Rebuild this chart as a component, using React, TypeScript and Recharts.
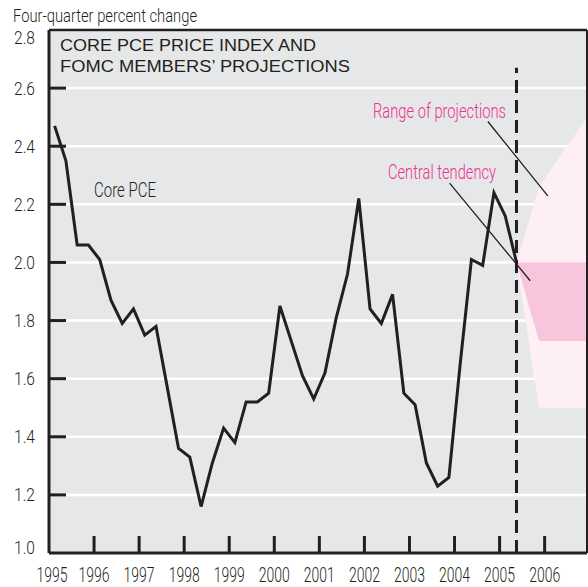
import React from "react";
import {
  ComposedChart,
  Line,
  Area,
  XAxis,
  YAxis,
  CartesianGrid,
  ReferenceLine,
  Customized,
} from "recharts";

// ---- Data ----
const years = [1995, 1996, 1997, 1998, 1999, 2000, 2001, 2002, 2003, 2004, 2005];
const quarterNames = ["Q1", "Q2", "Q3", "Q4"];
// Core PCE four-quarter percent change, 1995Q1 .. 2005Q2
const corePce = [
  2.47, 2.35, 2.06, 2.06,
  2.01, 1.87, 1.79, 1.84,
  1.75, 1.78, 1.57, 1.36,
  1.33, 1.16, 1.31, 1.43,
  1.38, 1.52, 1.52, 1.55,
  1.85, 1.73, 1.61, 1.53,
  1.62, 1.81, 1.96, 2.22,
  1.84, 1.79, 1.89, 1.55,
  1.51, 1.31, 1.23, 1.26,
  1.65, 2.01, 1.99, 2.24,
  2.16, 2.0,
];
// Projection band points: last actual, 2005Q4, right edge
const projX = [2005.375, 2005.875, 2006.94];
const rangeLow = [2.0, 1.5, 1.5];
const rangeHigh = [2.0, 2.26, 2.5];
const centralLow = [2.0, 1.73, 1.73];
const centralHigh = [2.0, 2.0, 2.0];

const xTicks = [1995, 1996, 1997, 1998, 1999, 2000, 2001, 2002, 2003, 2004, 2005, 2006];
const yTicks = [1.0, 1.2, 1.4, 1.6, 1.8, 2.0, 2.2, 2.4, 2.6, 2.8];
const X_DOMAIN: [number, number] = [1995, 2006.94];
const Y_DOMAIN: [number, number] = [1.0, 2.8];
const lastActualX = 2005.375;

// Annotation leader lines (data coords)
const rangeLeader = [
  { x: 2004.74, y: 2.485 },
  { x: 2006.07, y: 2.229 },
];
const centralLeader = [
  { x: 2003.89, y: 2.273 },
  { x: 2005.68, y: 1.937 },
];

// ---- Build table ----
const quarterX = (label: string) => {
  const [y, q] = label.split("Q");
  return Number(y) + (Number(q) - 1) * 0.25 + 0.125;
};
const quarterLabels: string[] = [];
years.forEach((y) => quarterNames.forEach((q) => quarterLabels.push(`${y}${q}`)));

type Row = { x: number; pce?: number; range?: [number, number]; central?: [number, number] };
const rowMap = new Map<number, Row>();
corePce.forEach((v, i) => {
  const x = quarterX(quarterLabels[i]);
  rowMap.set(x, { x, pce: v });
});
projX.forEach((x, i) => {
  const r = rowMap.get(x) || { x };
  r.range = [rangeLow[i], rangeHigh[i]];
  r.central = [centralLow[i], centralHigh[i]];
  rowMap.set(x, r);
});
const data = Array.from(rowMap.values()).sort((a, b) => a.x - b.x);

// ---- Styles ----
const FONT_NARROW = "Roboto, 'Liberation Sans', sans-serif";
const FONT_TITLE = "'Liberation Sans', Arial, Roboto, sans-serif";
const INK = "#231f20";
const PINK_TEXT = "#ec3390";

type NTProps = {
  x: number;
  y: number;
  size: number;
  width: number;
  anchor?: "start" | "middle" | "end";
  fill?: string;
  family?: string;
  weight?: number;
  children: React.ReactNode;
};
const FitText = ({
  x,
  y,
  size,
  width,
  anchor = "start",
  fill = INK,
  family = FONT_NARROW,
  weight = 300,
  children,
}: NTProps) => (
  <text
    x={x}
    y={y}
    fontFamily={family}
    fontSize={size}
    fontWeight={weight}
    fill={fill}
    textAnchor={anchor}
    textLength={width}
    lengthAdjust="spacingAndGlyphs"
  >
    {children}
  </text>
);

const YTick = (props: any) => {
  const { x, y, payload } = props;
  const v = payload.value;
  let dy = 6.5;
  if (Math.abs(v - 2.8) < 1e-6) dy = 14;
  if (Math.abs(v - 1.0) < 1e-6) dy = 1;
  return (
    <g>
      {v > 1.0 + 1e-6 && v < 2.8 - 1e-6 && (
        <line x1={x} x2={x + 17} y1={y} y2={y} stroke={INK} strokeWidth={3} />
      )}
      <FitText x={x - 14} y={y + dy} size={19} width={21} anchor="end">
        {v.toFixed(1)}
      </FitText>
    </g>
  );
};

const XTick = (props: any) => {
  const { x, y, payload } = props;
  const v = payload.value;
  return (
    <g>
      {v > 1995 && (
        <line x1={x} x2={x} y1={y} y2={y - 17} stroke={INK} strokeWidth={3} />
      )}
      <FitText x={x + (v === 1995 ? 3 : 0)} y={y + 29} size={20} width={31} anchor="middle">
        {v}
      </FitText>
    </g>
  );
};

const Annotations = () => (
  <g>
    <FitText x={13} y={21.5} size={18.5} width={184}>
      Four-quarter percent change
    </FitText>
    <FitText x={60} y={51} size={16} width={256} family={FONT_TITLE} weight={400}>
      CORE PCE PRICE INDEX AND
    </FitText>
    <FitText x={60} y={72} size={16} width={290} family={FONT_TITLE} weight={400}>
      FOMC MEMBERS’ PROJECTIONS
    </FitText>
    <FitText x={94} y={196.5} size={19.5} width={62}>
      Core PCE
    </FitText>
    <FitText x={373} y={117.5} size={19.5} width={133} fill={PINK_TEXT}>
      Range of projections
    </FitText>
    <FitText x={388} y={178.5} size={19.5} width={108} fill={PINK_TEXT}>
      Central tendency
    </FitText>
  </g>
);

export default function App() {
  return (
    <div style={{ position: "absolute", left: 0, top: 0 }}>
      <ComposedChart
        width={588}
        height={587}
        data={data}
        margin={{ top: 30, right: 1, bottom: 0, left: 0 }}
      >
        <CartesianGrid
          vertical={false}
          stroke="#ffffff"
          strokeWidth={2.5}
          fill="#e6e7e8"
          fillOpacity={1}
        />
        <XAxis
          type="number"
          dataKey="x"
          domain={X_DOMAIN}
          ticks={xTicks}
          allowDataOverflow
          height={34}
          tickSize={0}
          tickMargin={0}
          tickLine={false}
          axisLine={{ stroke: INK, strokeWidth: 3 }}
          tick={<XTick />}
          interval={0}
        />
        <YAxis
          type="number"
          domain={Y_DOMAIN}
          ticks={yTicks}
          allowDataOverflow
          width={49}
          tickSize={0}
          tickMargin={0}
          tickLine={false}
          axisLine={{ stroke: INK, strokeWidth: 3 }}
          tick={<YTick />}
          interval={0}
        />
        <Area
          type="linear"
          dataKey="range"
          stroke="none"
          fill="#fdeff4"
          fillOpacity={1}
          isAnimationActive={false}
          connectNulls={false}
        />
        <Area
          type="linear"
          dataKey="central"
          stroke="none"
          fill="#f7c6dd"
          fillOpacity={1}
          isAnimationActive={false}
          connectNulls={false}
        />
        <ReferenceLine
          segment={[
            { x: lastActualX, y: 1.0 },
            { x: lastActualX, y: 2.67 },
          ]}
          stroke={INK}
          strokeWidth={3}
          strokeDasharray="13 7"
          ifOverflow="visible"
        />
        <ReferenceLine y={2.8} stroke={INK} strokeWidth={2.5} ifOverflow="visible" />
        <ReferenceLine x={X_DOMAIN[1]} stroke={INK} strokeWidth={2} ifOverflow="visible" />
        <Line
          type="linear"
          dataKey="pce"
          stroke={INK}
          strokeWidth={3}
          dot={false}
          activeDot={false}
          strokeLinejoin="miter"
          isAnimationActive={false}
        />
        <ReferenceLine segment={rangeLeader} stroke={INK} strokeWidth={1.3} ifOverflow="visible" />
        <ReferenceLine segment={centralLeader} stroke={INK} strokeWidth={1.3} ifOverflow="visible" />
        <Customized component={Annotations} />
      </ComposedChart>
    </div>
  );
}
